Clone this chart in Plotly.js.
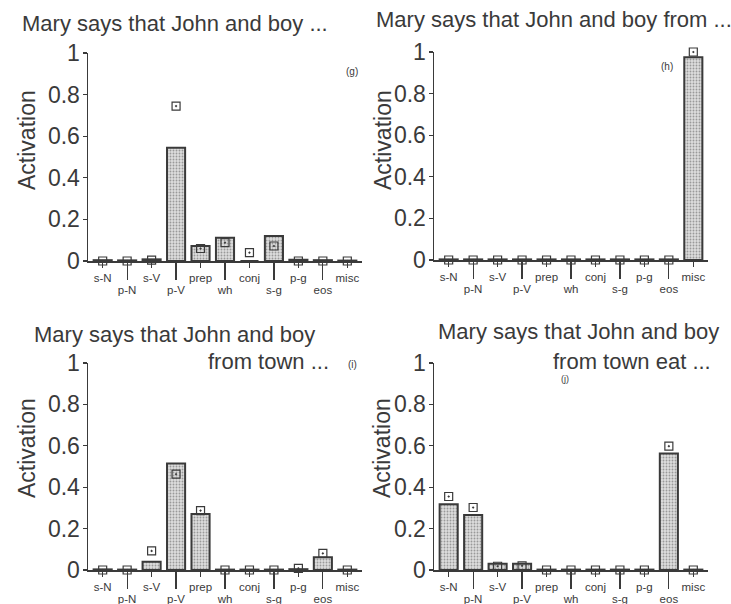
<!DOCTYPE html>
<html>
<head>
<meta charset="utf-8">
<script src="https://cdn.plot.ly/plotly-3.0.1.min.js"></script>
<style>html,body{margin:0;padding:0;background:#fff;}#chart{width:731px;height:604px;}</style>
</head>
<body>
<div id="chart"></div>
<script>
const categories = ["s-N","p-N","s-V","p-V","prep","wh","conj","s-g","p-g","eos","misc"];
const yTicks = [0, 0.2, 0.4, 0.6, 0.8, 1];
const yTickLabels = ["0", "0.2", "0.4", "0.6", "0.8", "1"];
const yTitle = "Activation";

const titleG = "Mary says that John and boy ...";
const titleH = "Mary says that John and boy from ...";
const titleI = ["Mary says that John and boy", "from town ..."];
const titleJ = ["Mary says that John and boy", "from town eat ..."];
const panelLabels = ["(g)", "(h)", "(i)", "(j)"];

// output activations (bars)
const barsG = [0.004, 0.003, 0.008, 0.545, 0.072, 0.112, 0.0, 0.12, 0.006, 0.004, 0.002];
const barsH = [0.003, 0.003, 0.003, 0.003, 0.003, 0.003, 0.003, 0.003, 0.003, 0.003, 0.975];
const barsI = [0.003, 0.002, 0.04, 0.515, 0.27, 0.002, 0.002, 0.002, 0.004, 0.062, 0.002];
const barsJ = [0.318, 0.266, 0.03, 0.03, 0.002, 0.002, 0.002, 0.002, 0.002, 0.563, 0.002];

// target values (square markers)
const targG = [0.0, 0.0, 0.004, 0.745, 0.06, 0.088, 0.04, 0.072, 0.0, 0.0, 0.0];
const targH = [0.0, 0.0, 0.0, 0.0, 0.0, 0.0, 0.0, 0.0, 0.0, 0.0, 1.0];
const targI = [0.0, 0.0, 0.092, 0.463, 0.287, 0.0, 0.0, 0.0, 0.008, 0.08, 0.0];
const targJ = [0.355, 0.302, 0.018, 0.02, 0.0, 0.0, 0.0, 0.0, 0.0, 0.598, 0.0];

const bars = [barsG, barsH, barsI, barsJ];
const targs = [targG, targH, targI, targJ];

const W = 731, H = 604;
const xIdx = categories.map((c, i) => i);
const xRange = [-0.6, categories.length - 0.4];
const xDomains = [[88 / W, 362 / W], [434 / W, 708 / W], [88 / W, 362 / W], [434 / W, 708 / W]];
const yDomains = [[1 - 261 / H, 1 - 53 / H], [1 - 260 / H, 1 - 52 / H], [1 - 570 / H, 1 - 363 / H], [1 - 570 / H, 1 - 363 / H]];

const ink = "#3a3a3a";
const fontFam = "Liberation Sans, Arial, Helvetica, sans-serif";

const evenIdx = xIdx.filter(i => i % 2 === 0);
const oddIdx = xIdx.filter(i => i % 2 === 1);

const data = [];
const layout = {
  width: W, height: H,
  margin: {l: 0, r: 0, t: 0, b: 0},
  paper_bgcolor: "#ffffff", plot_bgcolor: "rgba(0,0,0,0)",
  showlegend: false,
  font: {family: fontFam, color: ink},
  annotations: []
};

for (let p = 0; p < 4; p++) {
  const n = p + 1;
  const xa = "x" + n, ya = "y" + n;
  const xa2 = "x" + (n + 4);
  data.push({
    type: "bar", x: xIdx, y: bars[p], xaxis: xa, yaxis: ya,
    marker: {
      color: "#d6d6d6",
      line: {color: ink, width: 2},
      pattern: {shape: ".", fgcolor: "#999999", bgcolor: "#dddddd", size: 3, solidity: 0.3}
    },
    width: 0.74,
    hoverinfo: "skip"
  });
  data.push({
    type: "scatter", mode: "markers", x: xIdx, y: targs[p], xaxis: xa2, yaxis: ya,
    marker: {symbol: "square-open-dot", size: 8, color: ink, line: {width: 1.2, color: ink}},
    cliponaxis: false,
    hoverinfo: "skip"
  });
  layout["xaxis" + n] = {
    domain: xDomains[p], anchor: ya, range: xRange,
    tickmode: "array", tickvals: evenIdx, ticktext: evenIdx.map(i => categories[i]),
    ticks: "outside", ticklen: 5, tickwidth: 1.2, tickcolor: ink,
    showline: true, linecolor: ink, linewidth: 2,
    showgrid: false, zeroline: false,
    tickfont: {size: 11.5, color: ink, family: fontFam}
  };
  layout["xaxis" + (n + 4)] = {
    overlaying: xa, anchor: ya, range: xRange,
    tickmode: "array", tickvals: oddIdx, ticktext: oddIdx.map(i => categories[i]),
    ticks: "outside", ticklen: 18, tickwidth: 1.2, tickcolor: ink,
    showline: false, showgrid: false, zeroline: false, side: "bottom",
    tickfont: {size: 11.5, color: ink, family: fontFam}
  };
  layout["yaxis" + n] = {
    domain: yDomains[p], anchor: xa, range: [0, 1],
    tickmode: "array", tickvals: yTicks, ticktext: yTickLabels,
    ticks: "outside", ticklen: 4, tickwidth: 1.2, tickcolor: ink,
    ticklabelstandoff: -2,
    showline: true, linecolor: ink, linewidth: 1.5,
    showgrid: false, zeroline: false,
    tickfont: {size: 23, color: ink, family: fontFam}
  };
}

function ann(text, x, y, size, xanchor, angle) {
  layout.annotations.push({
    text: text, x: x / W, y: 1 - y / H, xref: "paper", yref: "paper",
    xanchor: xanchor || "left", yanchor: "middle", showarrow: false,
    textangle: angle || 0,
    font: {size: size, color: ink, family: fontFam}
  });
}
ann(titleG, 20, 24, 22);
ann(titleH, 374, 20, 22);
ann(titleI[0], 32, 334, 22);
ann(titleI[1], 331, 361, 22, "right");
ann(titleJ[0], 436, 331, 22);
ann(titleJ[1], 713, 362, 22, "right");
ann(panelLabels[0], 352, 72, 10, "center");
ann(panelLabels[1], 667, 66, 10, "center");
ann(panelLabels[2], 352, 364, 10, "center");
ann(panelLabels[3], 565, 379, 9, "center");
ann(yTitle, 27, 140, 23, "center", -90);
ann(yTitle, 383, 140, 23, "center", -90);
ann(yTitle, 27, 448, 23, "center", -90);
ann(yTitle, 382, 448, 23, "center", -90);

Plotly.newPlot("chart", data, layout, {displayModeBar: false, staticPlot: true});
</script>
</body>
</html>
